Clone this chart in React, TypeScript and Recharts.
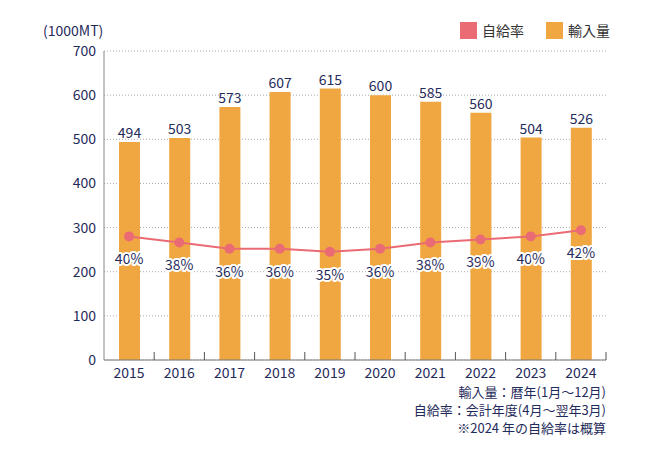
import {
  ComposedChart,
  Bar,
  Line,
  XAxis,
  YAxis,
  CartesianGrid,
  LabelList,
} from "recharts";

const years = ["2015", "2016", "2017", "2018", "2019", "2020", "2021", "2022", "2023", "2024"];
const imports = [494, 503, 573, 607, 615, 600, 585, 560, 504, 526];
const selfRate = [40, 38, 36, 36, 35, 36, 38, 39, 40, 42];
const volumeTicks = [0, 100, 200, 300, 400, 500, 600, 700];

const data = years.map((year, i) => ({
  year,
  imports: imports[i],
  rate: selfRate[i],
}));

const NAVY = "#1f2b5b";
const ORANGE = "#f0a742";
const PINK = "#ea6b74";
const FONT = "'Noto Sans CJK JP', 'Noto Sans', sans-serif";

// year label plus a small upward tick at the band edges
function YearTick(props: any) {
  const { x, y, payload, index } = props;
  const half = payload.offset || 0;
  const last = index === years.length - 1;
  return (
    <g>
      {index > 0 && (
        <line x1={x - half} x2={x - half} y1={y} y2={y - 8} stroke="#555" />
      )}
      {last && <line x1={x + half} x2={x + half} y1={y} y2={y - 8} stroke="#555" />}
      <text x={x} y={y + 18} textAnchor="middle" fontSize={14} fill={NAVY}>
        {payload.value}
      </text>
    </g>
  );
}

function RateLabel(props: any) {
  const { x, y, value } = props;
  return (
    <text
      x={x}
      y={y + 24}
      textAnchor="middle"
      dominantBaseline="middle"
      fontSize={14}
      fill={NAVY}
      stroke="#fff"
      strokeWidth={4}
      strokeLinejoin="round"
      style={{ paintOrder: "stroke" }}
    >
      {value}%
    </text>
  );
}

export default function App() {
  return (
    <div
      style={{
        position: "absolute",
        left: 0,
        top: 0,
        width: 650,
        height: 455,
        background: "#fff",
        fontFamily: FONT,
      }}
    >
      <ComposedChart
        width={650}
        height={455}
        data={data}
        margin={{ top: 51, right: 44, left: 0, bottom: 0 }}
        style={{ fontFamily: FONT }}
      >
        <CartesianGrid
          vertical={false}
          stroke="#aaa"
          strokeDasharray="1 2"
        />
        <XAxis
          dataKey="year"
          height={95}
          tickLine={false}
          tickSize={0}
          tickMargin={0}
          axisLine={{ stroke: "#777" }}
          tick={<YearTick />}
          interval={0}
        />
        <YAxis
          width={104}
          domain={[0, 700]}
          ticks={volumeTicks}
          tickLine={false}
          axisLine={{ stroke: "#888" }}
          tick={{ fill: NAVY, fontSize: 14 }}
        />
        <YAxis yAxisId="rate" orientation="right" domain={[0, 100]} hide />
        <Bar dataKey="imports" fill={ORANGE} barSize={21} isAnimationActive={false}>
          <LabelList
            dataKey="imports"
            position="top"
            offset={4}
            fill={NAVY}
            fontSize={14}
          />
        </Bar>
        <Line
          yAxisId="rate"
          dataKey="rate"
          stroke={PINK}
          strokeWidth={2}
          dot={{ r: 5, fill: PINK, stroke: PINK, strokeWidth: 0 }}
          activeDot={false}
          isAnimationActive={false}
        >
          <LabelList dataKey="rate" content={RateLabel} />
        </Line>
      </ComposedChart>

      <div
        style={{
          position: "absolute",
          left: 43,
          top: 20,
          fontSize: 14,
          color: NAVY,
        }}
      >
        (1000MT)
      </div>

      <div
        style={{
          position: "absolute",
          left: 460,
          top: 20,
          display: "flex",
          alignItems: "center",
          fontSize: 14,
          color: "#333",
        }}
      >
        <span style={{ width: 17, height: 17, background: PINK, display: "inline-block" }} />
        <span style={{ marginLeft: 5, marginRight: 22 }}>自給率</span>
        <span style={{ width: 17, height: 17, background: ORANGE, display: "inline-block" }} />
        <span style={{ marginLeft: 5 }}>輸入量</span>
      </div>

      <div
        style={{
          position: "absolute",
          right: 44,
          top: 383,
          textAlign: "right",
          fontSize: 13,
          lineHeight: "18px",
          color: NAVY,
        }}
      >
        <div>輸入量：暦年(1月～12月)</div>
        <div>自給率：会計年度(4月～翌年3月)</div>
        <div>※2024 年の自給率は概算</div>
      </div>
    </div>
  );
}
